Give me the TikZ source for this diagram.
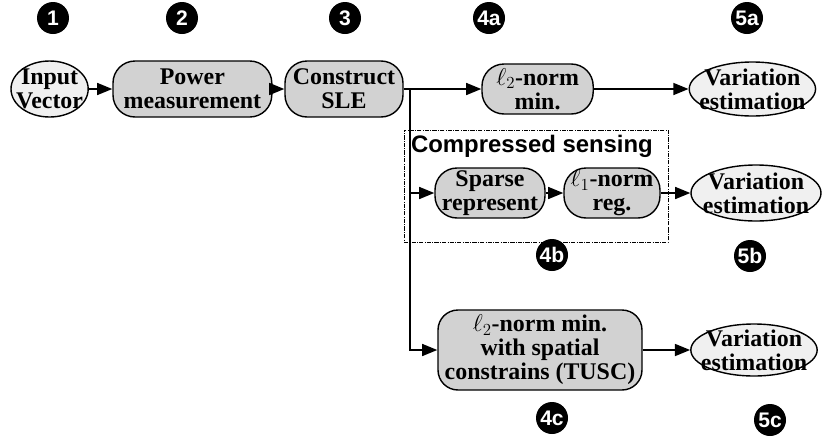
\documentclass[tikz,border=0pt]{standalone}
\usepackage{fontspec}
\setmainfont{Liberation Serif}
\setsansfont{Liberation Sans}
\usetikzlibrary{arrows.meta, shapes.geometric}

\begin{document}
\begin{tikzpicture}[
  stage/.style={rectangle, rounded corners=0.55cm, draw, line width=1pt, fill=gray!35, minimum height=1.4cm, inner sep=1pt, font=\fontsize{17}{17}\selectfont\bfseries, align=center},
  est/.style={ellipse, draw, line width=1pt, fill=gray!12, minimum width=3.1cm, minimum height=1.35cm, inner xsep=-6pt, inner ysep=-3pt, font=\fontsize{17}{17}\selectfont\bfseries, align=center},
  badge/.style={circle, fill=black, text=white, minimum size=0.8cm, inner sep=0pt, font=\sffamily\fontsize{15}{15}\selectfont\bfseries},
  group/.style={rectangle, draw, densely dashdotted, thin},
  arr/.style={-{Triangle[length=3.8mm, width=3mm]}, line width=1.2pt}
]

\useasboundingbox (0,0) rectangle (20.625,-11.075);

\node[badge] (n1)  at (1.325, -0.45)  {1};
\node[badge] (n2)  at (4.55, -0.45)   {2};
\node[badge] (n3)  at (8.625, -0.45)  {3};
\node[badge] (n4a) at (12.225, -0.45) {4a};
\node[badge] (n5a) at (18.675, -0.45) {5a};
\node[badge] (n4b) at (13.8, -6.375)  {4b};
\node[badge] (n5b) at (18.75, -6.4)   {5b};
\node[badge] (n4c) at (13.8, -10.45)  {4c};
\node[badge] (n5c) at (19.25, -10.5)  {5c};

\node[group, minimum width=6.6cm, minimum height=2.8cm] (cs) at (13.4, -4.65) {};
\node[font=\sffamily\fontsize{17}{17}\selectfont\bfseries] (cstitle) at (13.3, -3.65) {Compressed sensing};

\node[est, minimum width=1.93cm, minimum height=1.4cm] (input) at (1.24, -2.225) {Input\\Vector};
\node[stage, minimum width=3.97cm] (power) at (4.81, -2.225) {Power\\measurement};
\node[stage, minimum width=2.95cm] (sle)   at (8.6, -2.225)  {Construct\\SLE};
\coordinate (split) at (10.25, -2.225);
\node[stage, minimum width=2.78cm, minimum height=1.25cm] (l2) at (13.44, -2.225) {$\ell_2$-norm\\min.};
\node[est] (var1) at (18.81, -2.225) {Variation\\estimation};

\node[stage, minimum width=2.75cm, minimum height=1.25cm] (sparse) at (12.25, -4.825) {Sparse\\represent};
\node[stage, minimum width=2.4cm, minimum height=1.25cm]  (l1)     at (15.3, -4.825)  {$\ell_1$-norm\\reg.};
\node[est, minimum width=3.25cm, minimum height=1.4cm]    (var2)   at (18.9, -4.825)  {Variation\\estimation};

\node[stage, rounded corners=0.5cm, minimum width=5.1cm, minimum height=2cm] (tusc) at (13.5, -8.75) {$\ell_2$-norm min.\\with spatial\\constrains (TUSC)};
\node[est, minimum width=2.95cm, minimum height=1.3cm] (var3) at (18.85, -8.75) {Variation\\estimation};

\draw[arr] (input) -- (power);
\draw[arr] (power) -- (sle);
\draw[arr] (sle) -- (l2);
\draw[arr] (l2) -- (var1);

\draw[arr] (split) |- (sparse);
\draw[arr] (sparse) -- (l1);
\draw[arr] (l1) -- (var2);

\draw[arr] (split) |- (tusc);
\draw[arr] (tusc) -- (var3);

\end{tikzpicture}
\end{document}
